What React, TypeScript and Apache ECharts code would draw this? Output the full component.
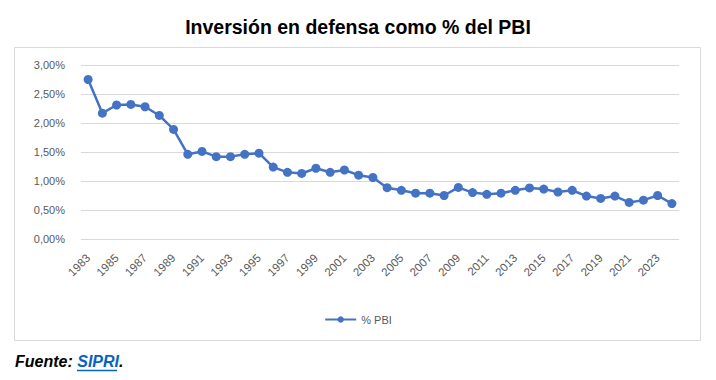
import React, { useEffect, useRef } from "react";
import * as echarts from "echarts";

const years: string[] = [];
for (let y = 1983; y <= 2024; y++) years.push(String(y));

const pbi = [
  2.75, 2.17, 2.31, 2.32, 2.28, 2.13, 1.89, 1.46, 1.51, 1.42,
  1.42, 1.46, 1.48, 1.24, 1.15, 1.13, 1.22, 1.15, 1.19, 1.1,
  1.06, 0.885, 0.84, 0.79, 0.79, 0.75, 0.89, 0.8, 0.77, 0.79,
  0.84, 0.88, 0.86, 0.81, 0.84, 0.74, 0.7, 0.74, 0.63, 0.67,
  0.75, 0.61,
];

const seriesName = "% PBI";
const titleText = "Inversión en defensa como % del PBI";

export default function App() {
  const ref = useRef<HTMLDivElement>(null);
  useEffect(() => {
    const chart = echarts.init(ref.current!, null, { renderer: "svg" });
    chart.setOption({
      animation: false,
      backgroundColor: "#ffffff",
      title: {
        text: titleText,
        left: "center",
        top: 12,
        textStyle: {
          fontFamily: "'Liberation Sans', Arial, sans-serif",
          fontWeight: "bold",
          fontSize: 19.5,
          color: "#000000",
        },
      },
      grid: { left: 81, right: 37, top: 65, bottom: 141, containLabel: false },
      xAxis: {
        type: "category",
        data: years,
        boundaryGap: true,
        axisLine: { show: false },
        axisTick: { show: false },
        axisLabel: {
          interval: 1,
          rotate: 45,
          margin: 17,
          color: "#595959",
          fontSize: 11.5,
          fontFamily: "'Liberation Sans', Arial, sans-serif",
        },
      },
      yAxis: {
        type: "value",
        min: 0,
        max: 3,
        interval: 0.5,
        axisLine: { show: false },
        axisTick: { show: false },
        splitLine: { lineStyle: { color: "#d9d9d9", width: 1 } },
        axisLabel: {
          margin: 16,
          color: "#595959",
          fontSize: 11,
          fontFamily: "'Liberation Sans', Arial, sans-serif",
          formatter: (v: number) => v.toFixed(2).replace(".", ",") + "%",
        },
      },
      legend: {
        data: [seriesName],
        left: "center",
        top: 309,
        itemWidth: 31,
        itemHeight: 8,
        itemGap: 10,
        textStyle: {
          color: "#595959",
          fontSize: 11,
          fontFamily: "'Liberation Sans', Arial, sans-serif",
        },
      },
      series: [
        {
          name: seriesName,
          type: "line",
          data: pbi,
          symbol: "circle",
          symbolSize: 9,
          lineStyle: { color: "#4472C4", width: 2.5 },
          itemStyle: { color: "#4472C4" },
        },
      ],
      graphic: [
        {
          type: "rect",
          shape: { x: 14.5, y: 47.5, width: 686, height: 293 },
          style: { fill: "none", stroke: "#d9d9d9", lineWidth: 1 },
          silent: true,
          z: -1,
        },
        {
          type: "text",
          x: 15,
          y: 353,
          style: {
            text: "{a|Fuente: }{b|SIPRI}{a|.}",
            rich: {
              a: {
                fontFamily: "'Liberation Sans', Arial, sans-serif",
                fontWeight: "bold",
                fontStyle: "italic",
                fontSize: 16,
                fill: "#000000",
              },
              b: {
                fontFamily: "'Liberation Sans', Arial, sans-serif",
                fontWeight: "bold",
                fontStyle: "italic",
                fontSize: 16,
                fill: "#0563C1",
              },
            },
          },
        },
        {
          type: "line",
          shape: { x1: 77, y1: 370.5, x2: 117, y2: 370.5 },
          style: { stroke: "#0563C1", lineWidth: 1.3 },
        },
      ],
    });
    return () => chart.dispose();
  }, []);
  return (
    <div
      ref={ref}
      style={{ position: "fixed", left: 0, top: 0, width: 716, height: 380 }}
    />
  );
}
